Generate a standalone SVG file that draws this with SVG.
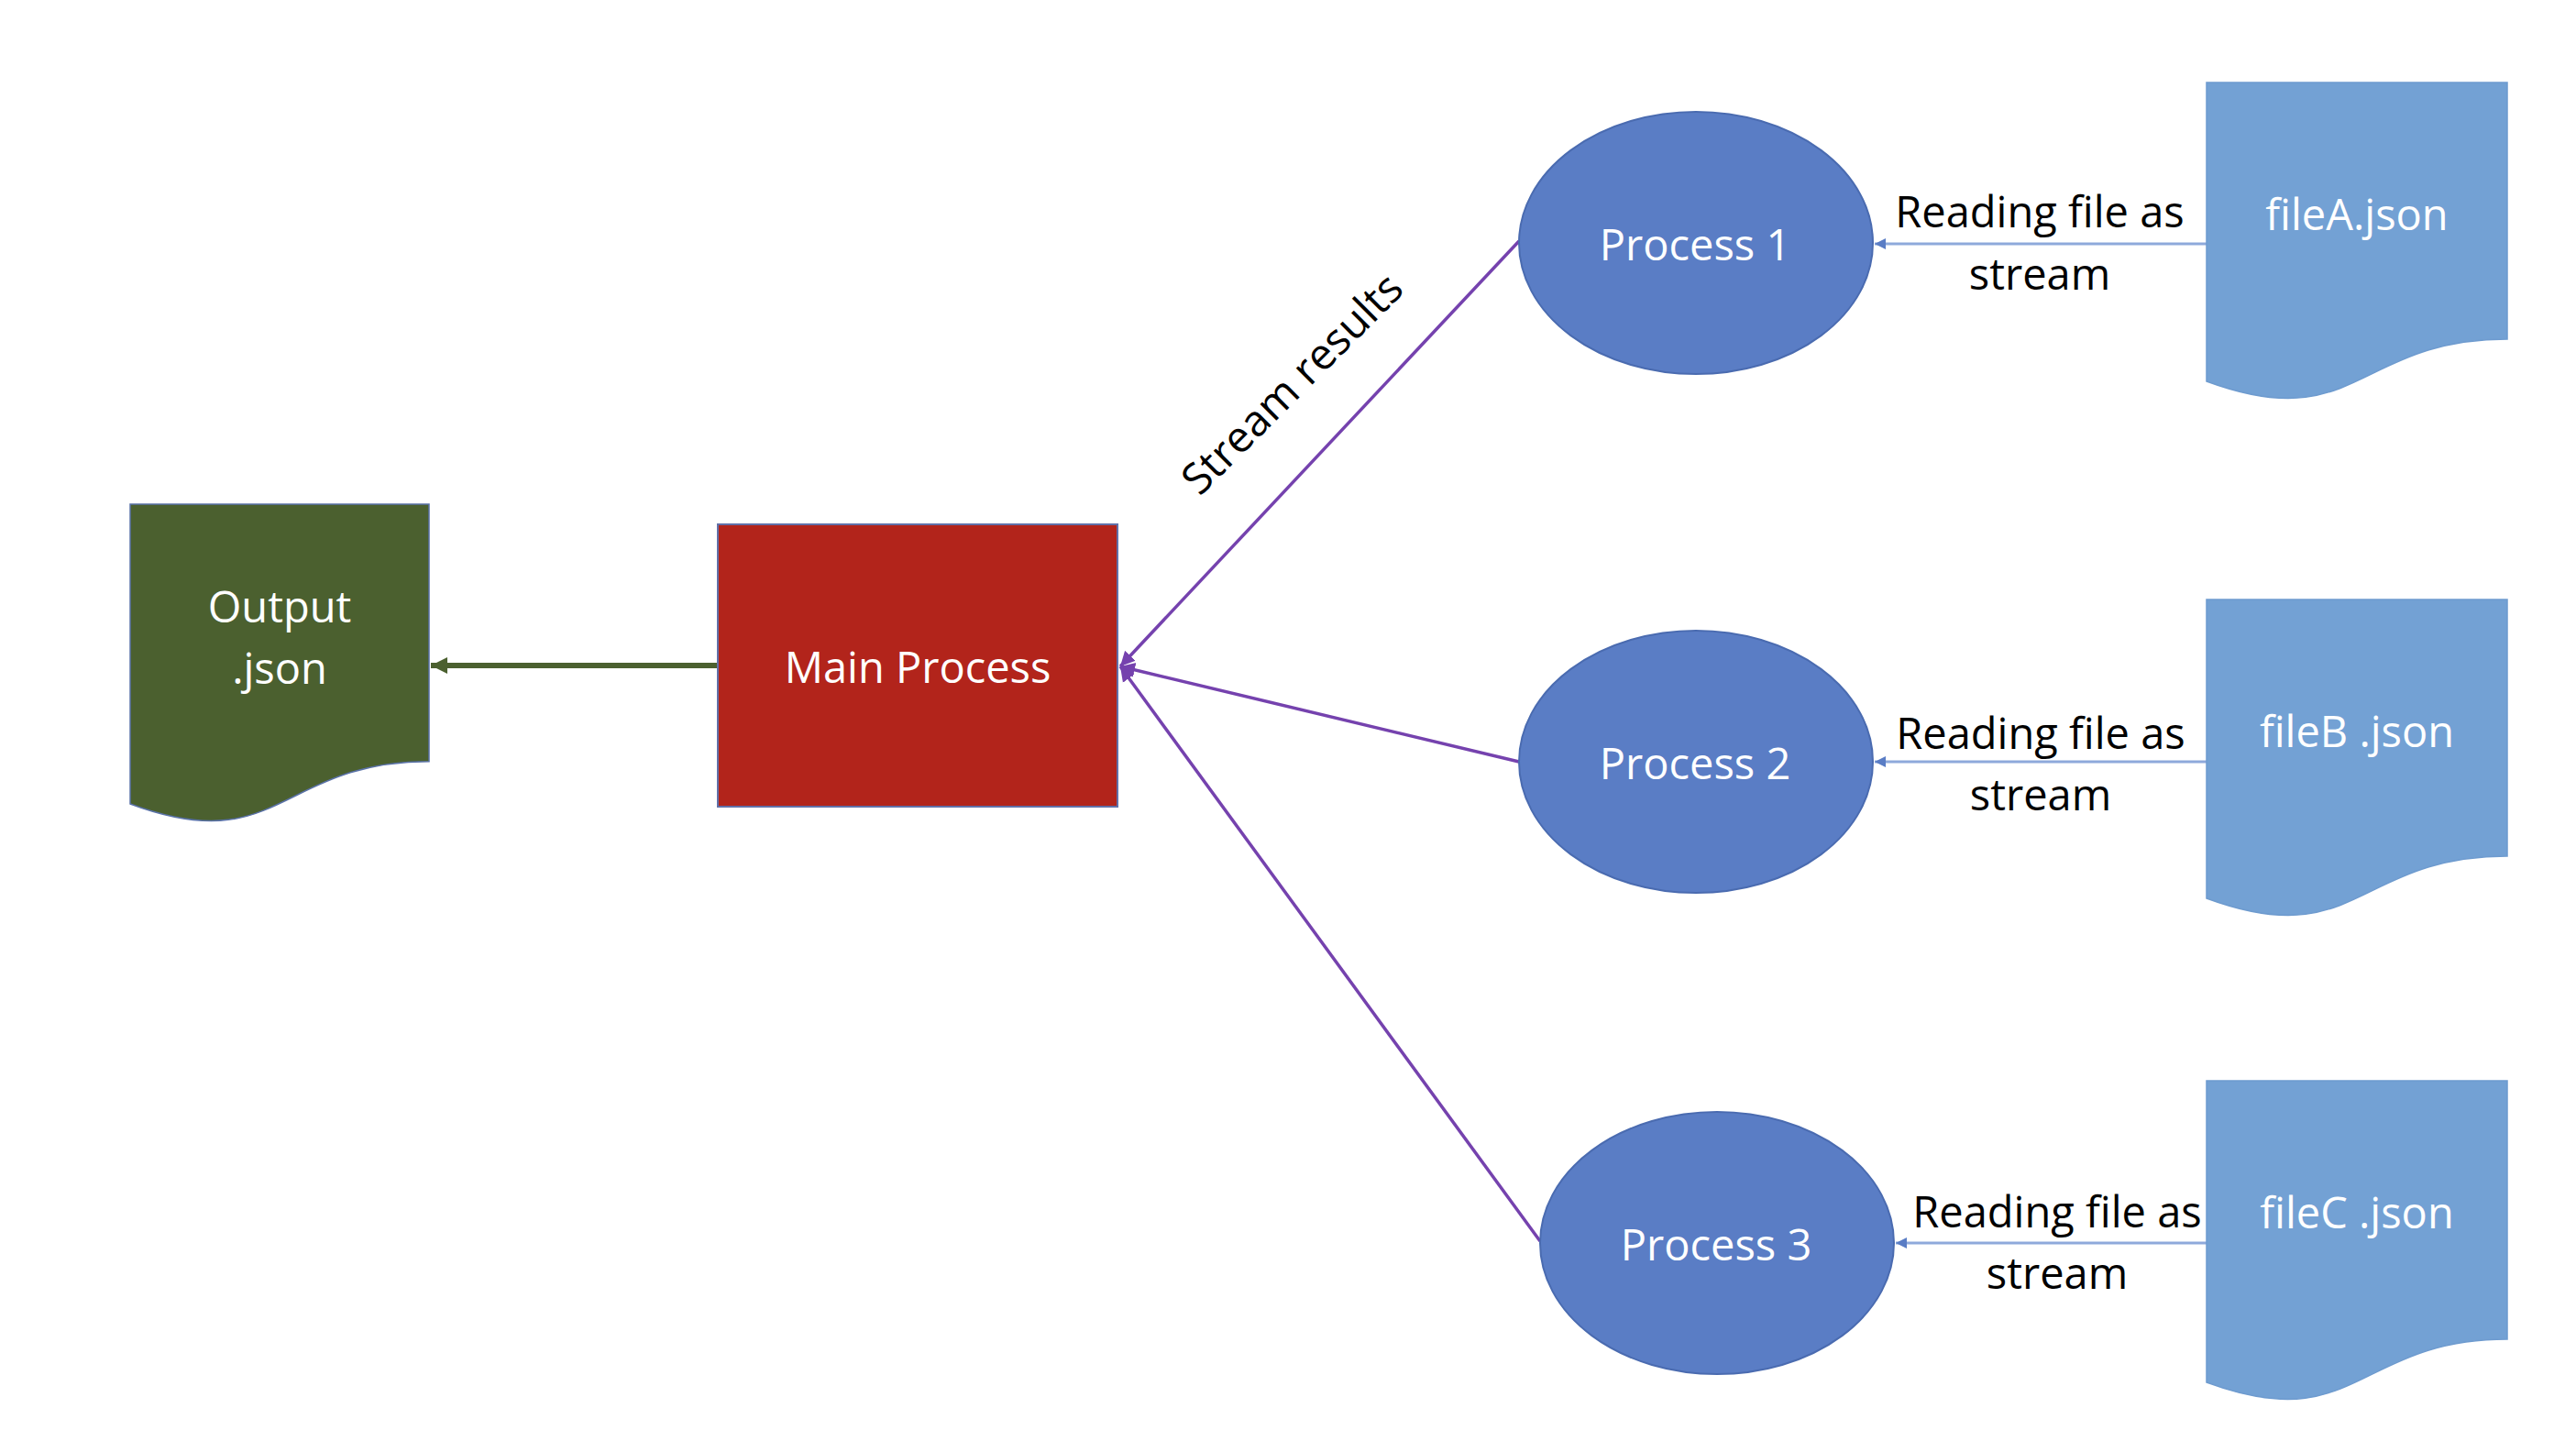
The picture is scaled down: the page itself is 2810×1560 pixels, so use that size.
<svg xmlns="http://www.w3.org/2000/svg" width="2810" height="1560" viewBox="0 0 2810 1560">
  <style>
    text { font-family: "Open Sans", "Noto Sans", "Liberation Sans", sans-serif; font-size: 47px; text-anchor: middle; }
    .w { fill: #ffffff; }
    .k { fill: #000000; }
    .doc { fill: #73A1D4; stroke: #6E9BCF; stroke-width: 1.5; }
    .proc { fill: #5A7DC5; stroke: #4A6BB0; stroke-width: 2; }
    .stream { stroke: #7542AE; stroke-width: 3.5; fill: none; marker-end: url(#ah-purple); }
    .read { stroke: #8EA9DB; stroke-width: 3; fill: none; marker-end: url(#ah-blue); }
  </style>
  <defs>
    <marker id="ah-purple" viewBox="0 0 10 10" refX="10" refY="5" markerWidth="16" markerHeight="20" markerUnits="userSpaceOnUse" orient="auto">
      <path d="M0,0 L10,5 L0,10 z" fill="#7542AE"/>
    </marker>
    <marker id="ah-blue" viewBox="0 0 10 10" refX="10" refY="5" markerWidth="12" markerHeight="14" markerUnits="userSpaceOnUse" orient="auto">
      <path d="M0,0 L10,5 L0,10 z" fill="#5A7DC5"/>
    </marker>
    <marker id="ah-green" viewBox="0 0 10 10" refX="10" refY="5" markerWidth="18" markerHeight="22" markerUnits="userSpaceOnUse" orient="auto">
      <path d="M0,0 L10,5 L0,10 z" fill="#4B602F"/>
    </marker>
  </defs>
  <rect x="0" y="0" width="2810" height="1560" fill="#ffffff"/>

  <g id="connectors">
    <line x1="783" y1="726" x2="470" y2="726" stroke="#4B602F" stroke-width="6" marker-end="url(#ah-green)"/>
    <line class="stream" x1="1657" y1="263" x2="1222" y2="727"/>
    <line class="stream" x1="1657" y1="831" x2="1222" y2="727"/>
    <line class="stream" x1="1680" y1="1354" x2="1222" y2="727"/>
    <line class="read" x1="2407" y1="266" x2="2045" y2="266"/>
    <line class="read" x1="2407" y1="831" x2="2045" y2="831"/>
    <line class="read" x1="2407" y1="1356" x2="2068" y2="1356"/>
    <text class="k" transform="translate(1421,430) rotate(-45)">Stream results</text>
    <text class="k" x="2225" y="248">Reading file as</text>
    <text class="k" x="2225" y="316">stream</text>
    <text class="k" x="2226" y="817">Reading file as</text>
    <text class="k" x="2226" y="884">stream</text>
    <text class="k" x="2244" y="1339">Reading file as</text>
    <text class="k" x="2244" y="1406">stream</text>
  </g>

  <g id="output-json">
    <path d="M142,550 H468 V830.7 C305,830.7 305,937.6 142,877 Z" fill="#4B602F" stroke="#5A72A8" stroke-width="1.5"/>
    <text class="w" x="305" y="679">Output</text>
    <text class="w" x="305" y="746">.json</text>
  </g>

  <g id="main-process">
    <rect x="783" y="572" width="436" height="308" fill="#B2241B" stroke="#6170A8" stroke-width="2"/>
    <text class="w" x="1001" y="745">Main Process</text>
  </g>

  <g id="process-1">
    <ellipse class="proc" cx="1850" cy="265" rx="193" ry="143"/>
    <text class="w" x="1849" y="284">Process 1</text>
  </g>
  <g id="process-2">
    <ellipse class="proc" cx="1850" cy="831" rx="193" ry="143"/>
    <text class="w" x="1849" y="850">Process 2</text>
  </g>
  <g id="process-3">
    <ellipse class="proc" cx="1873" cy="1356" rx="193" ry="143"/>
    <text class="w" x="1872" y="1375">Process 3</text>
  </g>

  <g id="fileA">
    <path class="doc" d="M2407,90 H2735 V370 C2571,370 2571,476.5 2407,416 Z"/>
    <text class="w" x="2571" y="251">fileA.json</text>
  </g>
  <g id="fileB">
    <path class="doc" d="M2407,654 H2735 V934 C2571,934 2571,1040.5 2407,980 Z"/>
    <text class="w" x="2571" y="815">fileB .json</text>
  </g>
  <g id="fileC">
    <path class="doc" d="M2407,1179 H2735 V1461 C2571,1461 2571,1568.5 2407,1508 Z"/>
    <text class="w" x="2571" y="1340">fileC .json</text>
  </g>
</svg>
